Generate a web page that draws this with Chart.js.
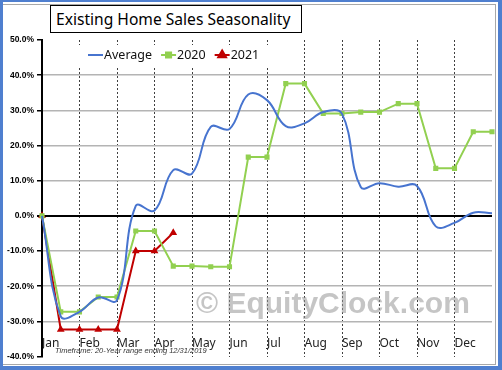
<!DOCTYPE html>
<html>
<head>
<meta charset="utf-8">
<script src="https://cdn.jsdelivr.net/npm/chart.js@4/dist/chart.umd.min.js"></script>
<style>
  body { margin: 0; background: #fff; }
  #wrap { position: relative; width: 502px; height: 370px; overflow: hidden; background: #fff; }
  #frame { position: absolute; left: 0; top: 0; width: 502px; height: 370px; box-sizing: border-box;
           border: 3px solid #4f7fcf; border-top-width: 2px; border-right-width: 4px; border-bottom-width: 4px; pointer-events: none; }
  #frame2 { position: absolute; left: 3px; top: 4px; width: 493px; height: 361px; box-sizing: border-box;
            border-top: 1px solid #a8a8a8; border-right: 1px solid #a8a8a8; border-bottom: 1px solid #a8a8a8; pointer-events: none; }
  #title { position: absolute; left: 50px; top: 5px; width: 252px; height: 28px; box-sizing: border-box;
           border: 1px solid #000; background: #fff; font: 15.6px "Noto Sans", sans-serif; line-height: 26px;
           padding-left: 5px; white-space: nowrap; color: #000; }
</style>
</head>
<body>
<div id="wrap">
  <canvas id="chart" width="502" height="370"></canvas>
  <div id="frame2"></div>
  <div id="frame"></div>
  <div id="title">Existing Home Sales Seasonality</div>
</div>
<script>
// half-month periods, Jan 1 .. Dec 31
const periods = ['Jan 1', 'Jan 15', 'Feb 1', 'Feb 15', 'Mar 1', 'Mar 15', 'Apr 1', 'Apr 15',
  'May 1', 'May 15', 'Jun 1', 'Jun 15', 'Jul 1', 'Jul 15', 'Aug 1', 'Aug 15', 'Sep 1', 'Sep 15',
  'Oct 1', 'Oct 15', 'Nov 1', 'Nov 15', 'Dec 1', 'Dec 15', 'Dec 31'];
const monthNames = ['Jan', 'Feb', 'Mar', 'Apr', 'May', 'Jun', 'Jul', 'Aug', 'Sep', 'Oct', 'Nov', 'Dec'];

// % change from start of year
const averageValues = [0, -28.6, -27.3, -23.2, -24.0, 2.8, 1.5, 13.0, 12.0, 25.3, 24.7, 34.5, 32.9,
  25.5, 26.3, 29.5, 29.0, 8.2, 9.3, 8.3, 8.5, -3.0, -2.0, 0.9, 0.7];
const values2020 = [0, -27.3, -27.3, -23.1, -23.1, -4.3, -4.3, -14.3, -14.3, -14.5, -14.5, 16.7, 16.7,
  37.6, 37.6, 29.1, 29.1, 29.5, 29.5, 31.9, 31.9, 13.5, 13.5, 23.9, 23.9];
const values2021 = [0, -32.3, -32.3, -32.3, -32.3, -10.0, -10.0, -4.8];

const yTicks = [-40, -30, -20, -10, 0, 10, 20, 30, 40, 50];

const watermark = '\u00A9 EquityClock.com';
const footnote = 'Timeframe: 20-Year range ending 12/31/2019';

// legend with white box, watermark, footnote
const extras = {
  id: 'extras',
  beforeDatasetsDraw(chart) {
    const { ctx, chartArea } = chart;
    ctx.save();
    ctx.font = 'bold 30px "Liberation Sans", Arial, sans-serif';
    ctx.fillStyle = 'rgba(150,150,150,0.55)';
    ctx.textBaseline = 'alphabetic';
    ctx.textAlign = 'left';
    ctx.fillText(watermark, chartArea.left + 154, chartArea.bottom - 44);
    ctx.restore();
  },
  afterDraw(chart) {
    const { ctx, chartArea } = chart;
    ctx.save();
    // footnote
    ctx.font = 'italic 7.5px "Liberation Sans", Arial, sans-serif';
    ctx.fillStyle = '#333';
    ctx.textBaseline = 'middle';
    ctx.fillText(footnote, chartArea.left + 13, chartArea.bottom - 6);

    // legend
    ctx.fillStyle = '#fff';
    ctx.fillRect(78, 45, 190, 21);
    ctx.font = '12.5px "Noto Sans", sans-serif';
    let x = 88;
    const y = 55;
    chart.data.datasets.forEach(ds => {
      ctx.strokeStyle = ds.borderColor;
      ctx.lineWidth = 2;
      ctx.beginPath();
      ctx.moveTo(x, y);
      ctx.lineTo(x + 15, y);
      ctx.stroke();
      if (ds.pointRadius > 0) {
        ctx.fillStyle = ds.pointBackgroundColor;
        ctx.strokeStyle = ds.pointBorderColor;
        Chart.helpers.drawPoint(ctx, { pointStyle: ds.pointStyle, radius: ds.pointRadius, borderWidth: 1 }, x + 7.5, y);
      }
      ctx.fillStyle = '#111';
      ctx.textBaseline = 'middle';
      ctx.fillText(ds.label, x + 16, y);
      x += 16 + ctx.measureText(ds.label).width + 9;
    });
    ctx.restore();
  }
};

new Chart(document.getElementById('chart'), {
  type: 'line',
  data: {
    labels: periods,
    datasets: [
      {
        label: 'Average', data: averageValues,
        borderColor: '#4774cf', borderWidth: 2, pointRadius: 0, tension: 0.4, fill: false
      },
      {
        label: '2020', data: values2020,
        borderColor: '#92d050', borderWidth: 2, pointStyle: 'rect', pointRadius: 3.6,
        pointBackgroundColor: '#92d050', pointBorderColor: '#92d050', pointBorderWidth: 0, tension: 0, fill: false
      },
      {
        label: '2021', data: values2021,
        borderColor: '#c00000', borderWidth: 2, pointStyle: 'triangle', pointRadius: 4.5,
        pointBackgroundColor: '#c00000', pointBorderColor: '#c00000', pointBorderWidth: 0, tension: 0, fill: false
      }
    ]
  },
  options: {
    responsive: false,
    animation: false,
    layout: { padding: { top: 40, right: 10, bottom: 13.5, left: 0 } },
    plugins: { legend: { display: false }, title: { display: false }, tooltip: { enabled: false } },
    scales: {
      x: {
        type: 'category',
        offset: false,
        grid: {
          drawTicks: false,
          lineWidth: 1,
          color: ctx => (ctx.index % 2 === 0 && ctx.index > 0 && ctx.index < periods.length - 1) ? '#404040' : 'rgba(0,0,0,0)'
        },
        border: { display: false, dash: [2, 2] },
        ticks: {
          autoSkip: false, maxRotation: 0, mirror: true, align: 'start', padding: 0,
          color: '#222',
          font: { family: '"Noto Sans", sans-serif', size: 12, lineHeight: 2.1 },
          callback: (v, i) => (i % 2 === 0 && i < periods.length - 1) ? monthNames[i / 2] : ''
        }
      },
      y: {
        min: -40, max: 50,
        afterFit: s => { s.width = 42; },
        afterBuildTicks: s => { s.ticks = yTicks.map(v => ({ value: v })); },
        grid: {
          tickLength: 5,
          tickColor: '#000',
          color: ctx => ctx.tick.value === 0 ? '#000' : (ctx.tick.value === 50 || ctx.tick.value === -40 ? 'rgba(0,0,0,0)' : '#b4b4b4'),
          lineWidth: ctx => ctx.tick.value === 0 ? 2 : 1.5
        },
        border: { color: '#000', width: 2 },
        ticks: {
          color: '#000', padding: 3,
          font: { family: '"Liberation Sans", Arial, sans-serif', size: 8.5, weight: 'bold' },
          callback: v => v.toFixed(1) + '%'
        }
      }
    }
  },
  plugins: [extras]
});
</script>
</body>
</html>
